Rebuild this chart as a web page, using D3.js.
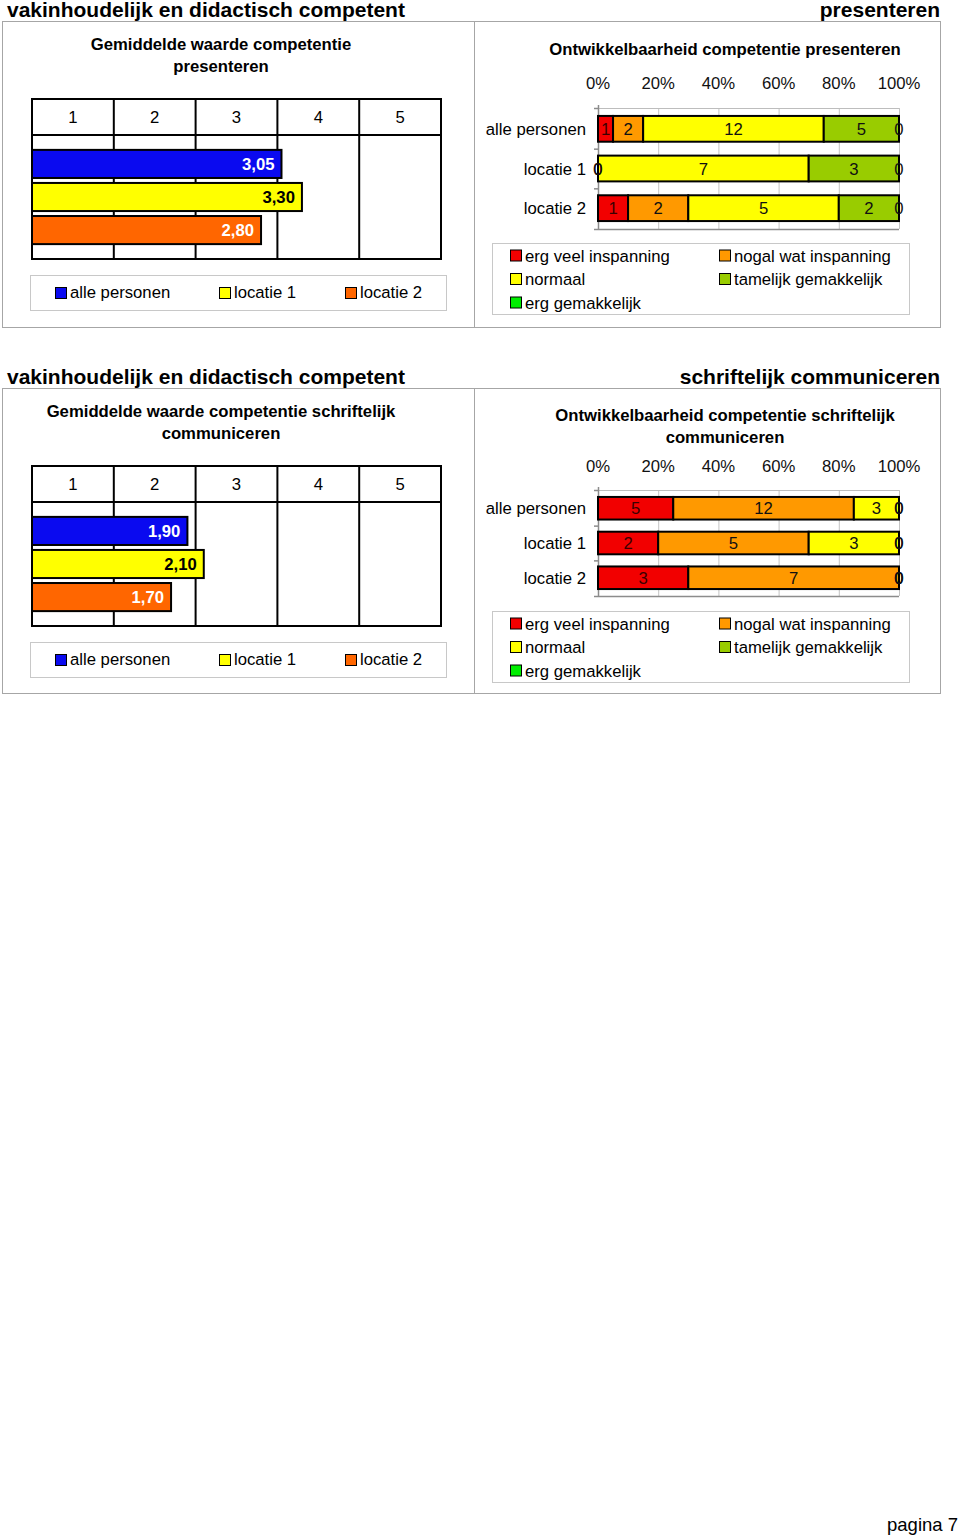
<!DOCTYPE html>
<html>
<head>
<meta charset="utf-8">
<script src="https://cdn.jsdelivr.net/npm/d3@7"></script>
<style>
  html, body { margin: 0; padding: 0; background: #fff; }
  svg { display: block; font-family: "Liberation Sans", Arial, Helvetica, sans-serif; }
</style>
</head>
<body>
<script>
// ---------- DATA ----------
const sectionTitle = "vakinhoudelijk en didactisch competent";
const competencies = ["presenteren", "schriftelijk communiceren"];
const groups = ["alle personen", "locatie 1", "locatie 2"];
const meanTitles = [["Gemiddelde waarde competentie", "presenteren"],
                    ["Gemiddelde waarde competentie schriftelijk", "communiceren"]];
const devTitles = [["Ontwikkelbaarheid competentie presenteren"],
                   ["Ontwikkelbaarheid competentie schriftelijk", "communiceren"]];
const meanPresenteren = [3.05, 3.30, 2.80];
const meanSchriftelijk = [1.90, 2.10, 1.70];
const scaleTicks = [1, 2, 3, 4, 5];
const levels = ["erg veel inspanning", "nogal wat inspanning", "normaal", "tamelijk gemakkelijk", "erg gemakkelijk"];
const countsPresenteren = [[1, 2, 12, 5, 0], [0, 0, 7, 3, 0], [1, 2, 5, 2, 0]];
const countsSchriftelijk = [[5, 12, 3, 0, 0], [2, 5, 3, 0, 0], [3, 7, 0, 0, 0]];
const pctTicks = [0, 0.2, 0.4, 0.6, 0.8, 1.0];
const pageLabel = "pagina 7";

// ---------- STYLE ----------
const FS = 16.7;
const groupColors = ["#0a0af0", "#ffff00", "#ff6600"];
const groupLabelColors = ["#ffffff", "#000000", "#ffffff"];
const levelColors = ["#f20000", "#ff9900", "#ffff00", "#99cc00", "#00ee00"];

const meansAll = [meanPresenteren, meanSchriftelijk];
const countsAll = [countsPresenteren, countsSchriftelijk];

const svg = d3.select("body").append("svg").attr("width", 960).attr("height", 1537);

// layouts for the two sections
const layouts = [
  { dy: 0, boxBottom: 327, devTitleY: [49], pctY: 83, plotTop: 108, plotBottom: 229, legTop: 243, legBottom: 314 },
  { dy: 367, boxBottom: 693, devTitleY: [415, 437], pctY: 466, plotTop: 490, plotBottom: 596, legTop: 611, legBottom: 682 }
];

layouts.forEach((L, s) => {
  const g = svg.append("g");
  const dy = L.dy;

  // section headings
  g.append("text").attr("x", 7).attr("y", 17 + dy)
    .attr("font-size", 21).attr("font-weight", "bold").text(sectionTitle);
  g.append("text").attr("x", 940).attr("y", 17 + dy).attr("text-anchor", "end")
    .attr("font-size", 21).attr("font-weight", "bold").text(competencies[s]);

  // outer boxes
  g.append("rect").attr("x", 2.5).attr("y", 21.5 + dy).attr("width", 938)
    .attr("height", L.boxBottom - (21 + dy)).attr("fill", "none").attr("stroke", "#a6a6a6");
  g.append("line").attr("x1", 474.5).attr("x2", 474.5).attr("y1", 21.5 + dy).attr("y2", L.boxBottom + 0.5)
    .attr("stroke", "#a6a6a6");

  // ===== LEFT: mean chart =====
  const x = d3.scaleLinear().domain([0, 5]).range([32, 441]);
  const hTop = 99 + dy, hBot = 135 + dy, pBot = 259 + dy;
  const y = d3.scaleBand().domain(groups).range([hBot, pBot]).paddingInner(0.15).paddingOuter(0.45);

  meanTitles[s].forEach((t, i) => {
    g.append("text").attr("x", 221).attr("y", 50 + dy + i * 22).attr("text-anchor", "middle")
      .attr("font-size", FS).attr("font-weight", "bold").text(t);
  });

  // header row and plot
  g.append("rect").attr("x", x(0)).attr("y", hTop).attr("width", x(5) - x(0)).attr("height", pBot - hTop)
    .attr("fill", "#fff").attr("stroke", "#000").attr("stroke-width", 2);
  g.append("line").attr("x1", x(0)).attr("x2", x(5)).attr("y1", hBot).attr("y2", hBot)
    .attr("stroke", "#000").attr("stroke-width", 2);
  g.selectAll(".vcol").data(scaleTicks.slice(0, 4)).enter().append("line")
    .attr("x1", d => x(d)).attr("x2", d => x(d)).attr("y1", hTop).attr("y2", pBot)
    .attr("stroke", "#000").attr("stroke-width", 2);
  g.selectAll(".hlab").data(scaleTicks).enter().append("text")
    .attr("x", d => x(d - 0.5)).attr("y", (hTop + hBot) / 2 + 6).attr("text-anchor", "middle")
    .attr("font-size", FS).text(d => d);

  const means = meansAll[s];
  g.selectAll(".mbar").data(groups).enter().append("rect")
    .attr("x", x(0)).attr("y", d => y(d)).attr("width", (d, i) => x(means[i]) - x(0))
    .attr("height", y.bandwidth()).attr("fill", (d, i) => groupColors[i])
    .attr("stroke", "#000").attr("stroke-width", 2);
  g.selectAll(".mlab").data(groups).enter().append("text")
    .attr("x", (d, i) => x(means[i]) - 7).attr("y", d => y(d) + y.bandwidth() / 2 + 6)
    .attr("text-anchor", "end").attr("font-size", FS).attr("font-weight", "bold")
    .attr("fill", (d, i) => groupLabelColors[i])
    .text((d, i) => means[i].toFixed(2).replace(".", ","));

  // left legend
  const lgTop = 275 + dy;
  g.append("rect").attr("x", 30.5).attr("y", lgTop + 0.5).attr("width", 416).attr("height", 35)
    .attr("fill", "#fff").attr("stroke", "#c8c8c8");
  const legX = [55, 219, 345];
  groups.forEach((gname, i) => {
    g.append("rect").attr("x", legX[i] + 0.5).attr("y", lgTop + 12.5).attr("width", 11).attr("height", 11)
      .attr("fill", groupColors[i]).attr("stroke", "#000");
    g.append("text").attr("x", legX[i] + 15).attr("y", lgTop + 23).attr("font-size", FS).text(gname);
  });

  // ===== RIGHT: stacked 100% chart =====
  const xp = d3.scaleLinear().domain([0, 1]).range([598, 899]);
  const yp = d3.scaleBand().domain(groups).range([L.plotTop, L.plotBottom]).paddingInner(0.35).paddingOuter(0.2);

  devTitles[s].forEach((t, i) => {
    g.append("text").attr("x", 725).attr("y", L.devTitleY[i] + 6).attr("text-anchor", "middle")
      .attr("font-size", FS).attr("font-weight", "bold").text(t);
  });

  g.selectAll(".pct").data(pctTicks).enter().append("text")
    .attr("x", d => xp(d)).attr("y", L.pctY + 6).attr("text-anchor", "middle")
    .attr("font-size", FS).attr("fill", "#111").text(d => Math.round(d * 100) + "%");

  // gridlines
  g.selectAll(".grid").data(pctTicks.slice(1)).enter().append("line")
    .attr("x1", d => xp(d) + 0.5).attr("x2", d => xp(d) + 0.5)
    .attr("y1", L.plotTop).attr("y2", L.plotBottom).attr("stroke", "#c4c4c4");
  g.append("line").attr("x1", xp(0)).attr("x2", xp(1)).attr("y1", L.plotTop + 0.5).attr("y2", L.plotTop + 0.5)
    .attr("stroke", "#bdbdbd");
  g.append("line").attr("x1", xp(0)).attr("x2", xp(1)).attr("y1", L.plotBottom + 0.5).attr("y2", L.plotBottom + 0.5)
    .attr("stroke", "#8c8c8c").attr("stroke-width", 1.5);
  g.append("line").attr("x1", xp(0) + 0.5).attr("x2", xp(0) + 0.5).attr("y1", L.plotTop - 3).attr("y2", L.plotBottom)
    .attr("stroke", "#8c8c8c").attr("stroke-width", 1.5);
  const boundaries = [L.plotTop, ...groups.slice(1).map(d => yp(d) - yp.step() * yp.paddingInner() / 2), L.plotBottom];
  g.selectAll(".ytick").data(boundaries).enter().append("line")
    .attr("x1", xp(0) - 4).attr("x2", xp(0)).attr("y1", d => d + 0.5).attr("y2", d => d + 0.5)
    .attr("stroke", "#8c8c8c").attr("stroke-width", 1.5);

  // category labels
  g.selectAll(".cat").data(groups).enter().append("text")
    .attr("x", 586).attr("y", d => yp(d) + yp.bandwidth() / 2 + 6).attr("text-anchor", "end")
    .attr("font-size", FS).text(d => d);

  // stacked data
  const counts = countsAll[s];
  const rows = groups.map((gname, i) => {
    const o = { group: gname };
    levels.forEach((lv, j) => o[lv] = counts[i][j]);
    return o;
  });
  const stack = d3.stack().keys(levels).offset(d3.stackOffsetExpand);
  const series = stack(rows);

  series.forEach((ser, j) => {
    const sg = g.append("g");
    sg.selectAll("rect").data(ser).enter().append("rect")
      .attr("x", d => xp(d[0])).attr("y", d => yp(d.data.group))
      .attr("width", d => Math.max(0, xp(d[1]) - xp(d[0])))
      .attr("height", yp.bandwidth())
      .attr("fill", levelColors[j]).attr("stroke", "#000").attr("stroke-width", 2);
  });
  series.forEach((ser, j) => {
    const sg = g.append("g");
    sg.selectAll("text").data(ser).enter().append("text")
      .attr("x", d => xp((d[0] + d[1]) / 2)).attr("y", d => yp(d.data.group) + yp.bandwidth() / 2 + 6)
      .attr("text-anchor", "middle").attr("font-size", FS)
      .attr("fill", j === 0 ? "#3a0000" : "#111")
      .text(d => d.data[ser.key]);
  });

  // right legend
  g.append("rect").attr("x", 492.5).attr("y", L.legTop + 0.5).attr("width", 417)
    .attr("height", L.legBottom - L.legTop).attr("fill", "#fff").attr("stroke", "#c8c8c8");
  const colX = [510, 719];
  levels.forEach((lv, j) => {
    const cx = colX[j % 2];
    const cy = L.legTop + 12.5 + Math.floor(j / 2) * 23.5;
    g.append("rect").attr("x", cx + 0.5).attr("y", cy - 5.5).attr("width", 11).attr("height", 11)
      .attr("fill", levelColors[j]).attr("stroke", "#000");
    g.append("text").attr("x", cx + 15).attr("y", cy + 6).attr("font-size", FS).text(lv);
  });
});

// page footer
svg.append("text").attr("x", 958).attr("y", 1531).attr("text-anchor", "end")
  .attr("font-size", 18.5).text(pageLabel);
</script>
</body>
</html>
